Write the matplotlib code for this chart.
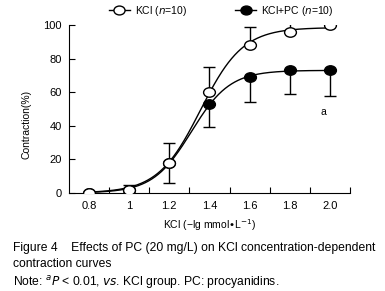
import matplotlib
matplotlib.use('Agg')
import matplotlib.pyplot as plt
from matplotlib.path import Path
from matplotlib.transforms import Affine2D
import numpy as np

plt.rcParams['font.family'] = ['Liberation Sans', 'DejaVu Sans']

# data
conc = [0.8, 1.0, 1.2, 1.4, 1.6, 1.8, 2.0]
kcl = [0, 2, 18, 60, 88, 96, 100]
kcl_err = [0, 3, 12, 15, 11, 5, 0]
kclpc = [0, 2, 18, 53, 69, 73, 73]
kclpc_err = [0, 3, 12, 14, 15, 14, 15]
xtick_labels = ['0.8', '1', '1.2', '1.4', '1.6', '1.8', '2.0']


def fit_logistic(x, y):
    # crude grid search for a smooth sigmoid through the points
    x = np.asarray(x); y = np.asarray(y)
    best = None
    for top in np.arange(60, 110, 0.5):
        for x50 in np.arange(1.2, 1.5, 0.005):
            for s in np.arange(0.04, 0.2, 0.002):
                f = top / (1 + np.exp(-(x - x50) / s))
                e = np.sum((f - y) ** 2)
                if best is None or e < best[0]:
                    best = (e, top, x50, s)
    return best[1:]


# slightly flattened circle like the scanned figure
ell = Path.unit_circle().transformed(Affine2D().scale(1.0, 0.8))

fig = plt.figure(figsize=(3.85, 2.91), dpi=100)
ax = fig.add_axes([0.179, 0.337, 0.730, 0.577])

xs = np.linspace(0.8, 2.0, 300)
for yv in (kcl, kclpc):
    top, x50, s = fit_logistic(conc, yv)
    ax.plot(xs, top / (1 + np.exp(-(xs - x50) / s)), color='black', lw=1.0, zorder=2)

# error bars: KCl upward, KCl+PC downward
ax.errorbar(conc, kcl, yerr=[np.zeros(len(kcl)), kcl_err], fmt='none',
            ecolor='black', elinewidth=1.0, capsize=4, capthick=1.0, zorder=3)
ax.errorbar(conc, kclpc, yerr=[kclpc_err, np.zeros(len(kclpc))], fmt='none',
            ecolor='black', elinewidth=1.0, capsize=4, capthick=1.0, zorder=3)

ax.plot(conc, kclpc, marker=ell, ls='none', ms=8.5, mfc='black', mec='black', zorder=4)
ax.plot(conc, kcl, marker=ell, ls='none', ms=8.5, mfc='white', mec='black', mew=1.0, zorder=5)

ax.text(1.97, 48, 'a', fontsize=7.5, ha='center', va='center')

ax.set_xlim(0.7, 2.1)
ax.set_ylim(0, 100)
ax.set_xticks(conc)
ax.set_xticklabels(xtick_labels, fontsize=8)
ax.tick_params(axis='x', length=0, pad=6)
ax.set_xticks(np.arange(0.9, 2.15, 0.2), minor=True)
ax.tick_params(axis='x', which='minor', direction='in', length=4, width=0.8)
ax.set_yticks([0, 20, 40, 60, 80, 100])
ax.tick_params(axis='y', direction='in', length=4, width=0.8, labelsize=8, pad=5)
ax.spines['right'].set_color('none')
ax.spines['top'].set_color('none')
ax.spines['left'].set_linewidth(0.8)
ax.spines['bottom'].set_linewidth(0.8)

ax.set_xlabel('KCl (\u2212lg mmol\u2022L$^{-1}$)', fontsize=7.5, labelpad=4)
fig.text(0.07, 0.574, 'Contraction(%)', rotation=90, fontsize=7.5, ha='center', va='center')

h1, = ax.plot([], [], '-', marker=ell, color='black', mfc='white', ms=8, lw=1.0)
h2, = ax.plot([], [], '-', marker=ell, color='black', mfc='black', ms=8, lw=1.0)
fig.legend([h1, h2], ['KCl ($n$=10)', 'KCl+PC ($n$=10)'], ncol=2, frameon=False,
           loc='center', bbox_to_anchor=(0.575, 0.962), fontsize=7.5,
           handlelength=2.0, columnspacing=4.6, handletextpad=0.5)

fig.text(0.034, 0.138, 'Figure 4    Effects of PC (20 mg/L) on KCl concentration-dependent',
         fontsize=8.7, va='baseline')
fig.text(0.034, 0.083, 'contraction curves', fontsize=8.7, va='baseline')
fig.text(0.034, 0.016, 'Note: $^{a}$$P$ < 0.01, $vs$. KCl group. PC: procyanidins.',
         fontsize=8.7, va='baseline')

fig.savefig('out.png', dpi=100)
